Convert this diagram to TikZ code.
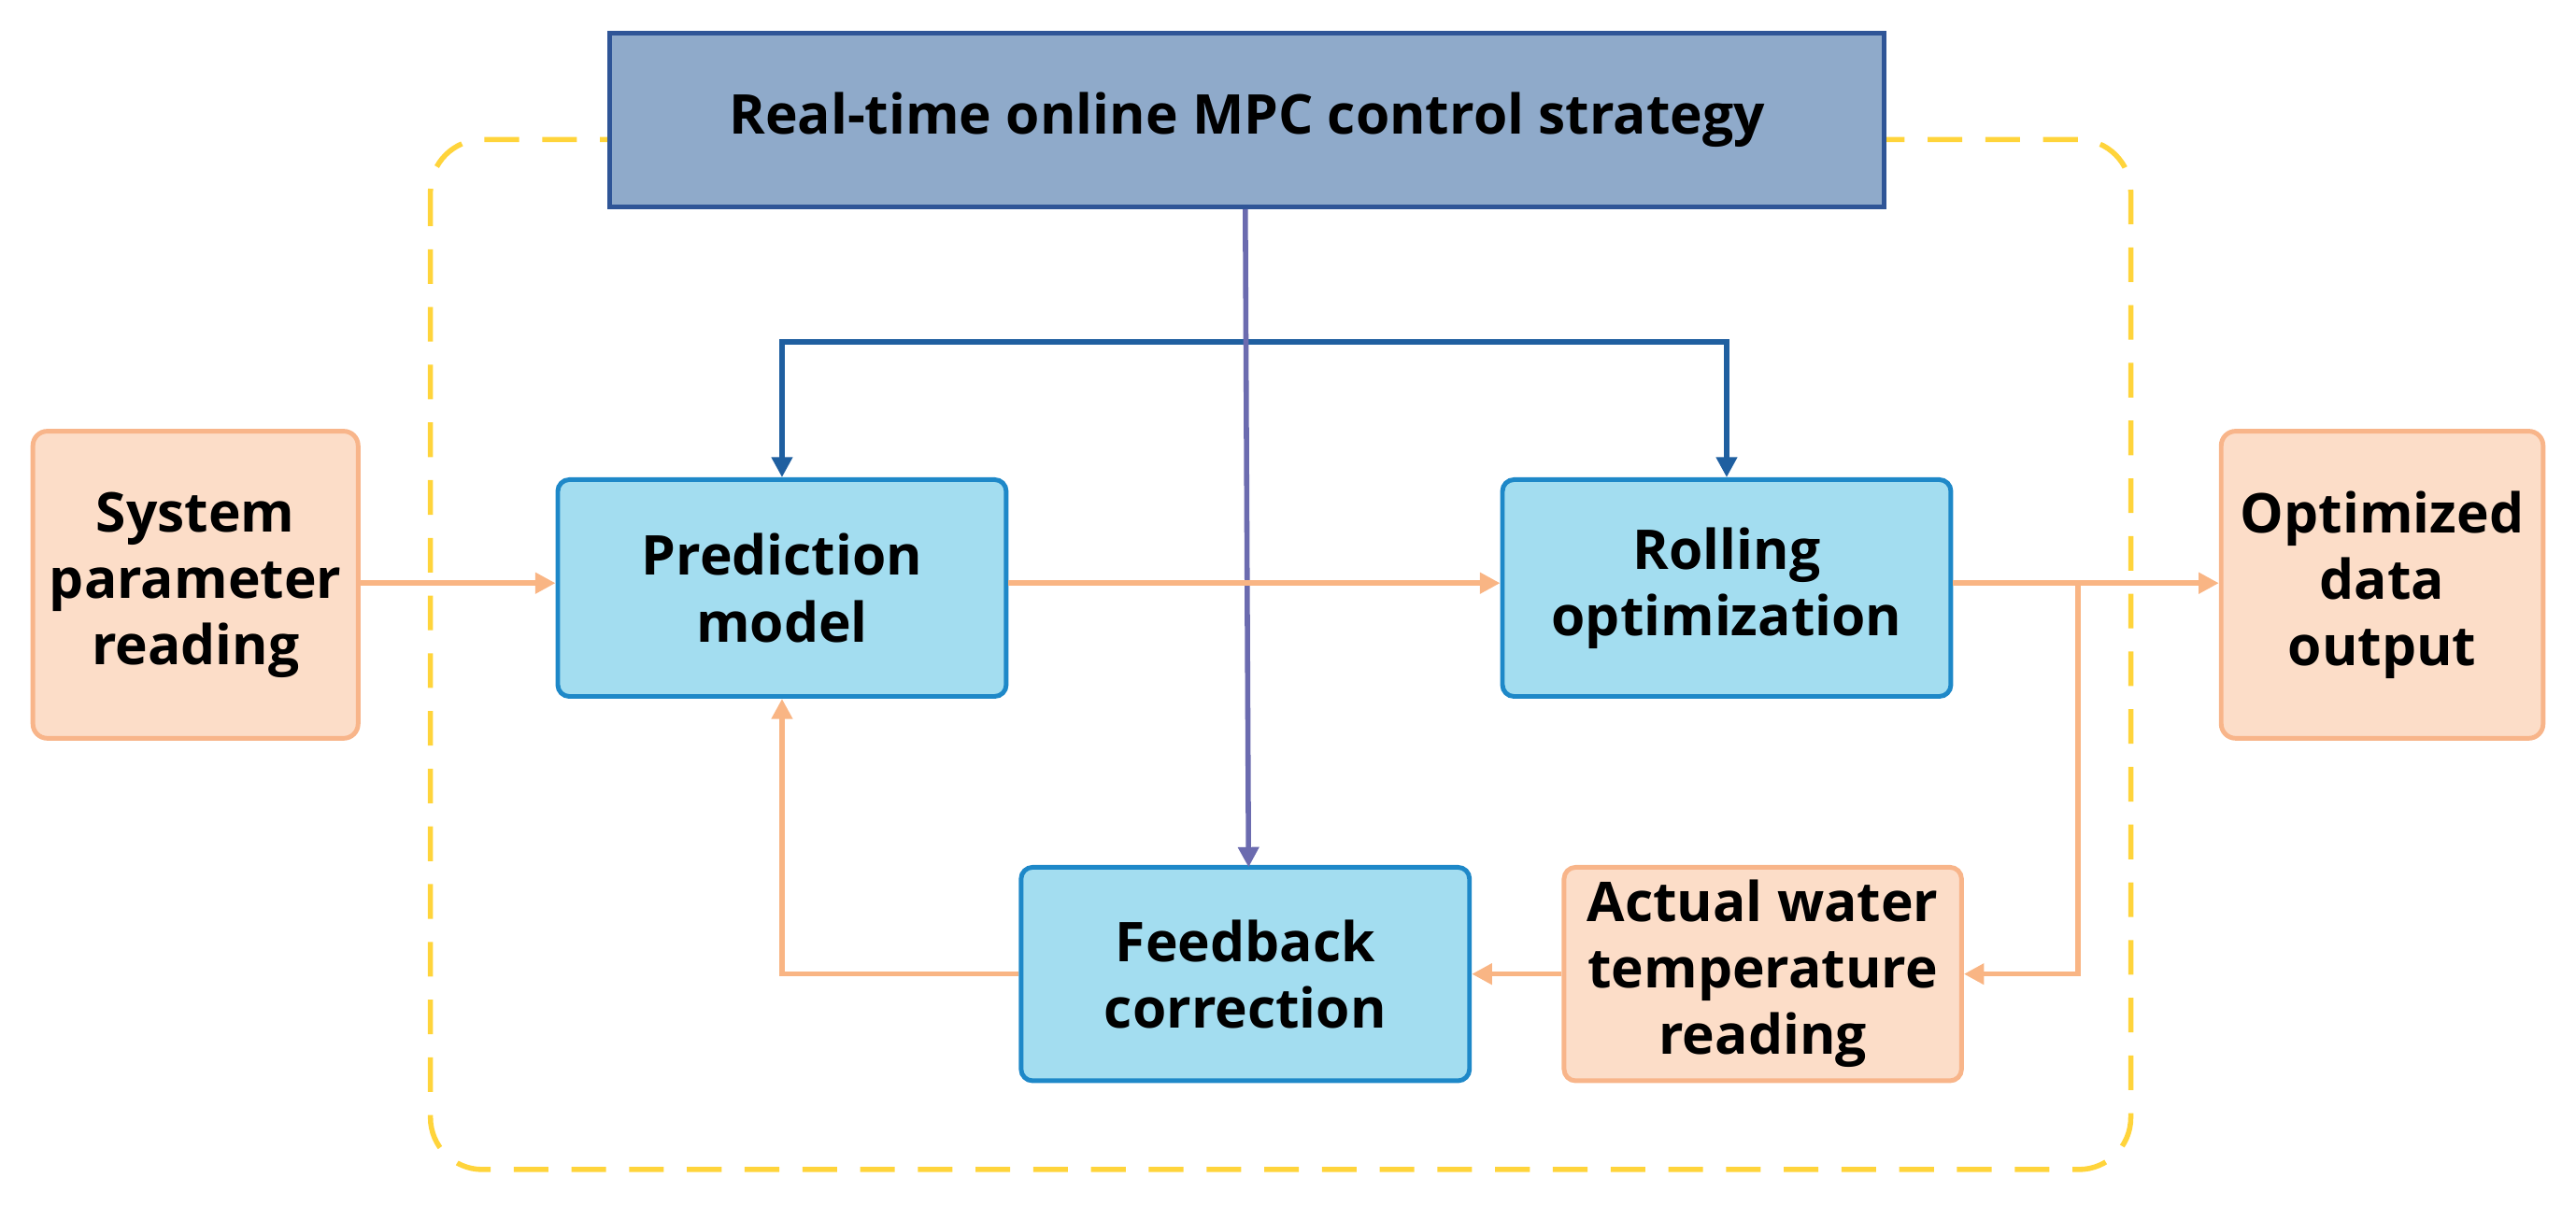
\documentclass[tikz,border=0pt]{standalone}
\usepackage{fontspec}
\setmainfont{Open Sans}
\usetikzlibrary{arrows.meta}
\definecolor{peachF}{HTML}{FCDDC8}
\definecolor{peachD}{HTML}{F8B58A}
\definecolor{cyanF}{HTML}{A3DDF0}
\definecolor{cyanD}{HTML}{1E88C8}
\definecolor{topF}{HTML}{8FAACA}
\definecolor{topD}{HTML}{2F5597}
\definecolor{dashY}{HTML}{FFD43B}
\definecolor{purp}{HTML}{6B6BAF}
\definecolor{dblue}{HTML}{1F5FA0}
\definecolor{orng}{HTML}{F9B584}
\begin{document}
\begin{tikzpicture}[x=0.02cm,y=-0.02cm,
  txt/.style={font=\fontsize{19}{23}\selectfont\bfseries,align=center,text=black,inner sep=0pt},
  peach/.style={txt,draw=peachD,fill=peachF,line width=1.6pt,rounded corners=5pt},
  cyan/.style={txt,draw=cyanD,fill=cyanF,line width=1.6pt,rounded corners=4pt,minimum width=5.46cm,minimum height=2.64cm},
  oarr/.style={draw=orng,line width=1.8pt,-{Triangle[length=7pt,width=7pt]}},
  barr/.style={draw=dblue,line width=1.8pt,-{Triangle[length=7pt,width=7pt]}},
  parr/.style={draw=purp,line width=1.8pt,-{Triangle[length=7pt,width=7pt]}}]
\useasboundingbox (0,0) rectangle (1568,734);
\draw[dashY,line width=1.8pt,dash pattern=on 12pt off 8pt,rounded corners=18pt] (262,85) rectangle (1297,712);
\node[txt,draw=topD,fill=topF,line width=1.6pt,minimum width=15.52cm,minimum height=2.12cm] (top) at (759,73) {Real-time online MPC control strategy};
\node[peach,minimum width=3.96cm,minimum height=3.74cm] (sys) at (119,356) {System\\parameter\\reading};
\node[peach,minimum width=3.92cm,minimum height=3.74cm] (opt) at (1450,356) {Optimized\\data\\output};
\node[cyan] (pred) at (476,358) {Prediction\\model};
\node[cyan] (roll) at (1051,358) {Rolling\\optimization};
\node[cyan,minimum height=2.6cm] (fb) at (758,593) {Feedback\\correction};
\node[peach,rounded corners=4pt,minimum width=4.84cm,minimum height=2.6cm] (act) at (1073,593) {Actual water\\temperature\\reading};
\coordinate (split) at (760,208);
\coordinate (br) at (1265,355);
\draw[barr] (split) -| (pred.north);
\draw[barr] (split) -| (roll.north);
\draw[parr] (top.south -| fb.north) -- (760,528);
\draw[oarr] (sys.east |- 0,355) -- (pred.west |- 0,355);
\draw[oarr] (pred.east |- 0,355) -- (roll.west |- 0,355);
\draw[oarr] (roll.east |- 0,355) -- (opt.west |- 0,355);
\draw[oarr] (br) |- (act.east);
\draw[oarr] (act.west) -- (fb.east);
\draw[oarr] (fb.west) -| (pred.south);
\end{tikzpicture}
\end{document}
